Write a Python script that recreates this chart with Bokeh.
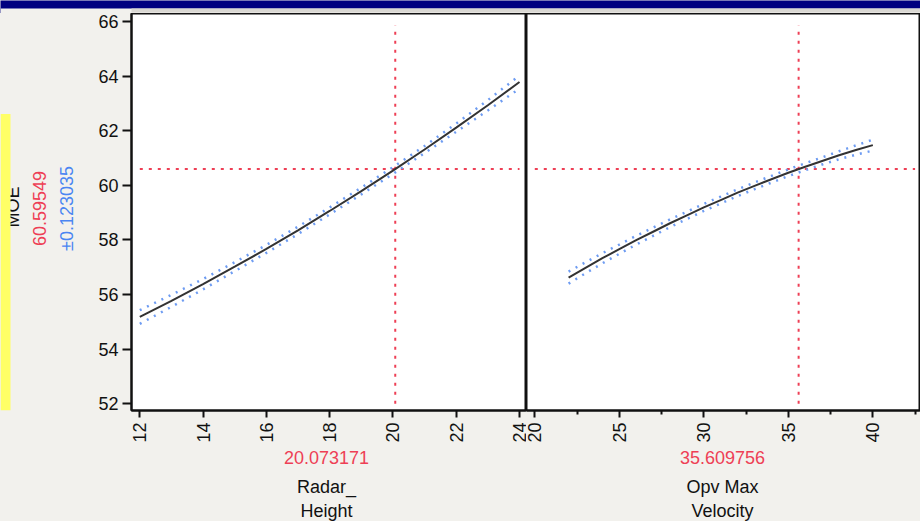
import math
from bokeh.plotting import figure
from bokeh.layouts import row, column
from bokeh.models import Range1d, FixedTicker
from bokeh.embed import file_html
from bokeh.resources import INLINE
from bokeh.core.properties import value

# ---------------- data ----------------
response_name = "MOE"
response_value = 60.59549
response_value_text = "60.59549"
response_ci_text = "\u00b10.123035"
y_ticks = [52, 54, 56, 58, 60, 62, 64, 66]

f1_title = ["Radar_", "Height"]
f1_current = 20.073171
f1_current_text = "20.073171"
f1_x = [12, 13, 14, 15, 16, 17, 18, 19, 20, 21, 22, 23, 24]
f1_fit = [55.18, 55.77, 56.38, 57.02, 57.67, 58.35, 59.06, 59.79, 60.54, 61.31, 62.11, 62.93, 63.78]
f1_halfwidth = [0.25, 0.22, 0.19, 0.165, 0.145, 0.135, 0.127, 0.123, 0.123, 0.13, 0.15, 0.19, 0.24]
f1_ticks = [12, 14, 16, 18, 20, 22, 24]

f2_title = ["Opv Max", "Velocity"]
f2_current = 35.609756
f2_current_text = "35.609756"
f2_x = [22, 23, 24, 25, 26, 27, 28, 29, 30, 31, 32, 33, 34, 35, 36, 37, 38, 39, 40]
f2_fit = [56.62, 56.98, 57.33, 57.66, 57.99, 58.30, 58.61, 58.90, 59.19, 59.46, 59.73,
          59.98, 60.22, 60.46, 60.68, 60.89, 61.10, 61.29, 61.47]
f2_halfwidth = [0.22, 0.2, 0.185, 0.17, 0.16, 0.15, 0.14, 0.135, 0.13, 0.127, 0.125,
                0.123, 0.123, 0.123, 0.125, 0.13, 0.145, 0.17, 0.2]
f2_ticks = [20, 25, 30, 35, 40]
f2_minor = [22.5, 27.5, 32.5, 37.5, 42.5]

# ---------------- style ----------------
FONT = "Liberation Sans"
BG = "#F2F1ED"
NAVY = "#000080"
RED = "#EE3F55"
BLUE_T = "#4B86F2"
BLUE_D = "#6E9CF2"
INK = "#111111"
FS = "18px"

TOP_H = 13
ROW_H = 434          # page y 13 .. 447 for the plot row
BOT_H = 521 - TOP_H - ROW_H
MB_TOP = 0
MB_BOT = ROW_H - 397  # frame height 397

yr = Range1d(51.755, 66.29)


def style_x(ax, ticks, minor):
    ax.ticker = FixedTicker(ticks=ticks, minor_ticks=minor)
    ax.major_label_orientation = math.pi / 2
    ax.major_tick_out = 7
    ax.major_tick_in = 0
    ax.minor_tick_out = 4
    ax.minor_tick_in = 0
    ax.major_tick_line_width = 2
    ax.minor_tick_line_width = 2
    ax.major_tick_line_color = INK
    ax.minor_tick_line_color = INK
    ax.major_label_standoff = 5
    ax.axis_line_width = 2
    ax.axis_line_color = INK
    ax.major_label_text_font = FONT
    ax.major_label_text_font_size = FS
    ax.major_label_text_color = INK


def make_panel(width, xr, min_left, xs, fit, hw, current, xticks, xminor, hline_span):
    p = figure(width=width, height=ROW_H, x_range=xr, y_range=yr,
               output_backend="svg", toolbar_location=None,
               min_border_left=min_left, min_border_right=0,
               min_border_top=MB_TOP, min_border_bottom=MB_BOT,
               background_fill_color="white", border_fill_color=BG,
               outline_line_color=INK, outline_line_width=2,
               y_axis_location="left" if min_left > 0 else None)
    p.grid.visible = False
    style_x(p.xaxis[0], xticks, xminor)
    if min_left > 0:
        ay = p.yaxis[0]
        ay.ticker = FixedTicker(ticks=y_ticks, minor_ticks=[])
        ay.major_tick_out = 9
        ay.major_tick_in = 0
        ay.major_tick_line_width = 2
        ay.major_tick_line_color = INK
        ay.major_label_standoff = 4
        ay.axis_line_width = 2
        ay.axis_line_color = INK
        ay.major_label_text_font = FONT
        ay.major_label_text_font_size = FS
        ay.major_label_text_color = INK

    # crosshair
    p.segment(x0=[hline_span[0]], y0=[response_value], x1=[hline_span[1]], y1=[response_value],
              line_color=RED, line_width=2, line_dash="3 6")
    p.segment(x0=[current], y0=[52], x1=[current], y1=[65.85],
              line_color=RED, line_width=2, line_dash="3 6")
    # confidence band
    up = [f + h for f, h in zip(fit, hw)]
    lo = [f - h for f, h in zip(fit, hw)]
    p.line(xs, up, line_color=BLUE_D, line_width=2.5, line_dash="2 6")
    p.line(xs, lo, line_color=BLUE_D, line_width=2.5, line_dash="2 6")
    # prediction trace
    p.line(xs, fit, line_color="#333333", line_width=2)
    return p


p1 = make_panel(436, Range1d(11.738, 24.221), 41, f1_x, f1_fit, f1_halfwidth, f1_current,
                f1_ticks, [], (12, 24))
p2 = make_panel(394, Range1d(19.51, 42.82), 0, f2_x, f2_fit, f2_halfwidth, f2_current,
                f2_ticks, f2_minor, (20, 42.5))

# left side panel (response name and value), sharing the y range
p0 = figure(width=90, height=ROW_H, x_range=Range1d(0, 90), y_range=yr,
            output_backend="svg", toolbar_location=None,
            min_border_left=0, min_border_right=0, min_border_top=MB_TOP, min_border_bottom=MB_BOT,
            x_axis_location=None, y_axis_location=None,
            background_fill_color=BG, border_fill_color=BG, outline_line_color=None)
p0.grid.visible = False
p0.text(x=[12.8], y=[59.21], text=[response_name], angle=math.pi / 2, text_align="center",
        text_baseline="middle", text_color=INK, text_font=value(FONT), text_font_size=FS)
p0.text(x=[38.7], y=[59.15], text=[response_value_text], angle=math.pi / 2, text_align="center",
        text_baseline="middle", text_color=RED, text_font=value(FONT), text_font_size=FS)
p0.text(x=[66.8], y=[59.15], text=[response_ci_text], angle=math.pi / 2, text_align="center",
        text_baseline="middle", text_color=BLUE_T, text_font=value(FONT), text_font_size=FS)
p0.quad(left=[0], right=[10], top=[62.61], bottom=[51.755], fill_color="#FFFF66", line_color=None)

# top title bar
top = figure(width=920, height=TOP_H, x_range=Range1d(0, 920), y_range=Range1d(0, TOP_H),
             output_backend="svg", toolbar_location=None, min_border=0,
             x_axis_location=None, y_axis_location=None,
             background_fill_color=NAVY, border_fill_color=NAVY, outline_line_color=None)
top.grid.visible = False
top.quad(left=[0], right=[920], top=[TOP_H - 8], bottom=[0], fill_color=BG, line_color=None)
top.quad(left=[131], right=[920], top=[TOP_H - 8], bottom=[TOP_H - 12], fill_color="#DAD8D3", line_color=None)

# bottom strip with current factor values and factor names (y = 521 - page y)
bot = figure(width=920, height=BOT_H, x_range=Range1d(0, 920), y_range=Range1d(0, BOT_H),
             output_backend="svg", toolbar_location=None, min_border=0,
             x_axis_location=None, y_axis_location=None,
             background_fill_color=BG, border_fill_color=BG, outline_line_color=None)
bot.grid.visible = False
cx = [326, 722]
bot.text(x=cx, y=[64, 64], text=[f1_current_text, f2_current_text],
         text_align="center", text_baseline="middle", text_color=RED,
         text_font=value(FONT), text_font_size=FS)
bot.text(x=cx, y=[35, 35], text=[f1_title[0], f2_title[0]],
         text_align="center", text_baseline="middle", text_color=INK,
         text_font=value(FONT), text_font_size=FS)
bot.text(x=cx, y=[11, 11], text=[f1_title[1], f2_title[1]],
         text_align="center", text_baseline="middle", text_color=INK,
         text_font=value(FONT), text_font_size=FS)

mid = row(p0, p1, p2, spacing=0, styles={"background-color": BG})
layout = column(top, mid, bot, spacing=0, styles={"background-color": BG})
open("out.html", "w").write(file_html(layout, INLINE))
